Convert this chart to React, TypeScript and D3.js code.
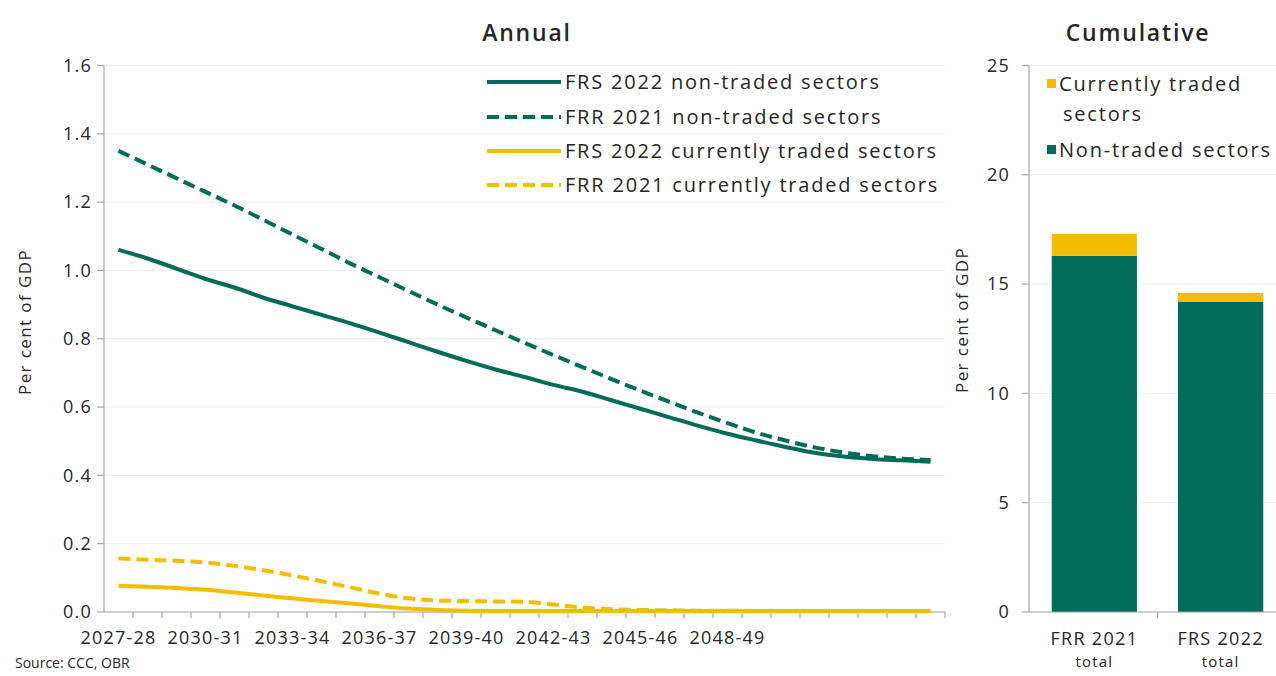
import React from 'react';
import * as d3 from 'd3';

const years = [
  '2027-28', '2028-29', '2029-30', '2030-31', '2031-32', '2032-33', '2033-34', '2034-35',
  '2035-36', '2036-37', '2037-38', '2038-39', '2039-40', '2040-41', '2041-42', '2042-43',
  '2043-44', '2044-45', '2045-46', '2046-47', '2047-48', '2048-49', '2049-50', '2050-51',
  '2051-52', '2052-53', '2053-54', '2054-55', '2055-56',
];
const xTickLabels = ['2027-28', '2030-31', '2033-34', '2036-37', '2039-40', '2042-43', '2045-46', '2048-49'];
const annualTicks = [0, 0.2, 0.4, 0.6, 0.8, 1.0, 1.2, 1.4, 1.6];

const frs2022NonTraded = [
  1.06, 1.035, 1.005, 0.975, 0.95, 0.92, 0.895, 0.87, 0.845, 0.818, 0.79, 0.762, 0.735, 0.71,
  0.688, 0.665, 0.645, 0.62, 0.595, 0.57, 0.545, 0.522, 0.502, 0.483, 0.466, 0.455, 0.448, 0.444, 0.44,
];
const frr2021NonTraded = [
  1.35, 1.31, 1.27, 1.23, 1.19, 1.148, 1.105, 1.063, 1.02, 0.98, 0.94, 0.9, 0.862, 0.825,
  0.788, 0.752, 0.717, 0.682, 0.648, 0.615, 0.583, 0.553, 0.525, 0.502, 0.482, 0.467, 0.456, 0.449, 0.445,
];
const frs2022Traded = [
  0.077, 0.074, 0.07, 0.065, 0.057, 0.048, 0.04, 0.032, 0.025, 0.017, 0.01, 0.006, 0.004, 0.003,
  0.003, 0.003, 0.003, 0.003, 0.003, 0.003, 0.003, 0.003, 0.003, 0.003, 0.003, 0.003, 0.003, 0.003, 0.003,
];
const frr2021Traded = [
  0.157, 0.153, 0.15, 0.145, 0.135, 0.122, 0.107, 0.09, 0.072, 0.054, 0.04, 0.034, 0.032, 0.031,
  0.03, 0.022, 0.013, 0.008, 0.006, 0.005, 0.004, 0.004, 0.003, 0.003, 0.003, 0.003, 0.003, 0.003, 0.003,
];

const cumulativeCategories = ['FRR 2021', 'FRS 2022'];
const cumulativeNonTraded = [16.3, 14.2];
const cumulativeTraded = [1.0, 0.4];
const cumulativeTicks = [0, 5, 10, 15, 20, 25];

const GREEN = '#006B58';
const YELLOW = '#F5BD00';
const AXIS = '#A6A6A6';
const GRID = '#ECECEC';
const TEXT = '#262626';
const FONT = "'Open Sans', sans-serif";

const annualSeries = [
  { name: 'FRS 2022 non-traded sectors', values: frs2022NonTraded, color: GREEN, dash: null },
  { name: 'FRR 2021 non-traded sectors', values: frr2021NonTraded, color: GREEN, dash: '12,6' },
  { name: 'FRS 2022 currently traded sectors', values: frs2022Traded, color: YELLOW, dash: null },
  { name: 'FRR 2021 currently traded sectors', values: frr2021Traded, color: YELLOW, dash: '12,6' },
];

export default function App() {
  const W = 1276;
  const H = 676;

  // Annual panel
  const x = d3.scaleBand<string>().domain(years).range([104, 945]);
  const y = d3.scaleLinear().domain([0, 1.6]).range([612, 65.5]);
  const xc = (i: number) => (x(years[i]) as number) + x.bandwidth() / 2;
  const line = d3
    .line<number>()
    .x((_, i) => xc(i))
    .y((d) => y(d))
    .curve(d3.curveMonotoneX);

  // Cumulative panel
  const xb = d3
    .scaleBand<string>()
    .domain(cumulativeCategories)
    .range([1029, 1286])
    .paddingInner(0.325)
    .paddingOuter(0.18);
  const yb = d3.scaleLinear().domain([0, 25]).range([612, 65.5]);
  const stackRows = cumulativeCategories.map((c, i) => ({
    cat: c,
    nonTraded: cumulativeNonTraded[i],
    traded: cumulativeTraded[i],
  }));
  const stacked = d3.stack<any>().keys(['nonTraded', 'traded'])(stackRows);
  const stackColors: Record<string, string> = { nonTraded: GREEN, traded: YELLOW };

  const legendY = [82, 117, 151, 185];
  const midTick = ((xb('FRR 2021') as number) + xb.bandwidth() + (xb('FRS 2022') as number)) / 2;

  return (
    <svg
      width={W}
      height={H}
      style={{ position: 'absolute', left: 0, top: 0, background: '#fff' }}
      fontFamily={FONT}
    >
      <rect x={0} y={0} width={W} height={H} fill="#fff" />

      {/* Titles */}
      <text x={527} y={41} textAnchor="middle" fontSize={23} fontWeight={600} letterSpacing={1.8} fill={TEXT}>
        Annual
      </text>
      <text x={1138} y={41} textAnchor="middle" fontSize={23} fontWeight={600} letterSpacing={1.8} fill={TEXT}>
        Cumulative
      </text>

      {/* Annual gridlines */}
      {annualTicks.map((t) => (
        <line key={'g' + t} x1={104} x2={945} y1={y(t)} y2={y(t)} stroke={GRID} strokeWidth={1} />
      ))}
      {/* Annual y axis */}
      <line x1={104} x2={104} y1={y(1.6)} y2={y(0)} stroke={AXIS} strokeWidth={1.2} />
      {annualTicks.map((t) => (
        <g key={'yt' + t}>
          <line x1={97} x2={104} y1={y(t)} y2={y(t)} stroke={AXIS} strokeWidth={1.2} />
          <text x={92} y={y(t)} dy="0.35em" textAnchor="end" fontSize={18} letterSpacing={1.2} fill={TEXT}>
            {t.toFixed(1)}
          </text>
        </g>
      ))}
      <text
        transform={`translate(31,322) rotate(-90)`}
        textAnchor="middle"
        fontSize={17}
        letterSpacing={1.4}
        fill={TEXT}
      >
        Per cent of GDP
      </text>

      {/* Annual x axis */}
      <line x1={104} x2={945} y1={y(0)} y2={y(0)} stroke={AXIS} strokeWidth={1.2} />
      {years.map((yr) => (
        <line
          key={'xt' + yr}
          x1={(x(yr) as number) + x.step()}
          x2={(x(yr) as number) + x.step()}
          y1={y(0)}
          y2={y(0) + 6}
          stroke={AXIS}
          strokeWidth={1.2}
        />
      ))}
      {xTickLabels.map((lab) => (
        <text
          key={'xl' + lab}
          x={(x(lab) as number) + x.bandwidth() / 2}
          y={644}
          textAnchor="middle"
          fontSize={18}
          letterSpacing={1.2}
          fill={TEXT}
        >
          {lab}
        </text>
      ))}

      {/* Annual lines */}
      {annualSeries
        .slice()
        .reverse()
        .map((s) => (
          <path
            key={s.name}
            d={line(s.values) as string}
            fill="none"
            stroke={s.color}
            strokeWidth={4}
            strokeDasharray={s.dash ?? undefined}
          />
        ))}

      {/* Annual legend */}
      {annualSeries.map((s, i) => (
        <g key={'lg' + s.name}>
          <line
            x1={487}
            x2={561}
            y1={legendY[i]}
            y2={legendY[i]}
            stroke={s.color}
            strokeWidth={4}
            strokeDasharray={s.dash ?? undefined}
          />
          <text x={565} y={legendY[i]} dy="0.35em" fontSize={20} letterSpacing={1.8} fill={TEXT}>
            {s.name}
          </text>
        </g>
      ))}

      {/* Cumulative gridlines */}
      {cumulativeTicks.map((t) => (
        <line key={'cg' + t} x1={1029} x2={1276} y1={yb(t)} y2={yb(t)} stroke={GRID} strokeWidth={1} />
      ))}
      {/* Cumulative bars */}
      {stacked.map((layer) =>
        layer.map((d, i) => (
          <rect
            key={layer.key + i}
            x={xb(cumulativeCategories[i])}
            width={xb.bandwidth()}
            y={yb(d[1])}
            height={yb(d[0]) - yb(d[1])}
            fill={stackColors[layer.key]}
          />
        ))
      )}
      {/* Cumulative y axis */}
      <line x1={1029} x2={1029} y1={yb(25)} y2={yb(0)} stroke={AXIS} strokeWidth={1.2} />
      {cumulativeTicks.map((t) => (
        <g key={'cyt' + t}>
          <line x1={1022} x2={1029} y1={yb(t)} y2={yb(t)} stroke={AXIS} strokeWidth={1.2} />
          <text x={1010} y={yb(t)} dy="0.35em" textAnchor="end" fontSize={18} letterSpacing={1.2} fill={TEXT}>
            {t}
          </text>
        </g>
      ))}
      <text
        transform={`translate(968,320) rotate(-90)`}
        textAnchor="middle"
        fontSize={17}
        letterSpacing={1.4}
        fill={TEXT}
      >
        Per cent of GDP
      </text>
      {/* Cumulative x axis */}
      <line x1={1029} x2={1276} y1={yb(0)} y2={yb(0)} stroke={AXIS} strokeWidth={1.2} />
      <line x1={midTick} x2={midTick} y1={yb(0)} y2={yb(0) + 6} stroke={AXIS} strokeWidth={1.2} />
      {cumulativeCategories.map((c) => (
        <g key={'cx' + c}>
          <text
            x={(xb(c) as number) + xb.bandwidth() / 2}
            y={645}
            textAnchor="middle"
            fontSize={18}
            letterSpacing={1.3}
            fill={TEXT}
          >
            {c}
          </text>
          <text
            x={(xb(c) as number) + xb.bandwidth() / 2}
            y={667}
            textAnchor="middle"
            fontSize={15}
            letterSpacing={1.2}
            fill={TEXT}
          >
            total
          </text>
        </g>
      ))}

      {/* Cumulative legend */}
      <rect x={1047} y={79} width={9} height={9} fill={YELLOW} />
      <text x={1059} y={84} dy="0.35em" fontSize={20} letterSpacing={1.8} fill={TEXT}>
        Currently traded
      </text>
      <text x={1063} y={114} dy="0.35em" fontSize={20} letterSpacing={1.8} fill={TEXT}>
        sectors
      </text>
      <rect x={1047} y={145} width={9} height={9} fill={GREEN} />
      <text x={1059} y={150} dy="0.35em" fontSize={20} letterSpacing={1.8} fill={TEXT}>
        Non-traded sectors
      </text>

      {/* Source */}
      <text x={15} y={668} fontSize={14} fill={TEXT}>
        Source: CCC, OBR
      </text>
    </svg>
  );
}
